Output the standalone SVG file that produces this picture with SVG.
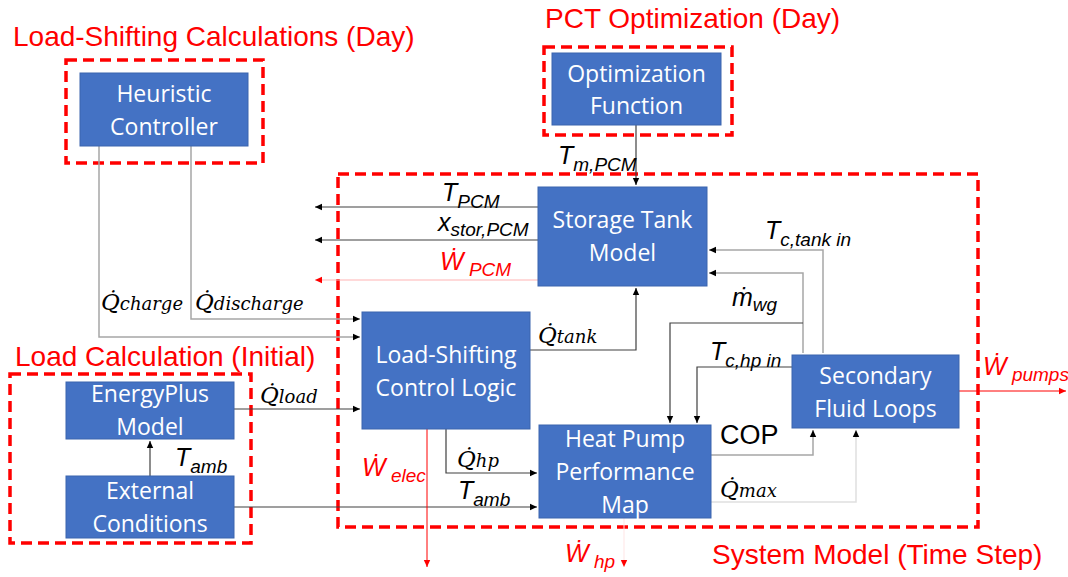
<svg xmlns="http://www.w3.org/2000/svg" width="1068" height="577" viewBox="0 0 1068 577">
<style>
.box{fill:#4472C4;stroke:#3A64AE;stroke-width:1}
.bt{font-family:"Open Sans","Liberation Sans",sans-serif;font-size:23px;fill:#fff;text-anchor:middle}
.grp{fill:none;stroke:#FF0000;stroke-width:3.5;stroke-dasharray:11 6}
.gt{font-family:"Liberation Sans",Arial,sans-serif;font-size:28px;fill:#FF0000}
.ln{fill:none;stroke:#404040;stroke-width:1.2}
.lg{fill:none;stroke:#A6A6A6;stroke-width:1.5}
.lr{fill:none;stroke:#FF0000;stroke-width:1}
.lrf{fill:none;stroke:#FFB3B3;stroke-width:1}
.mq{font-family:"DejaVu Serif","Liberation Serif",serif;font-style:italic;font-size:23px;fill:#000}
.ms{font-size:18px}
.tv{font-family:"Liberation Sans",Arial,sans-serif;font-style:italic;font-size:25px;fill:#000}
.ts{font-size:19px}
.red{fill:#FF0000}
</style>
<defs>
<marker id="ab" markerWidth="8" markerHeight="8" refX="7" refY="4" orient="auto" markerUnits="userSpaceOnUse"><path d="M0,0.8 L7,4 L0,7.2 Z" fill="#000"/></marker>
<marker id="ar" markerWidth="8" markerHeight="8" refX="7" refY="4" orient="auto" markerUnits="userSpaceOnUse"><path d="M0,0.8 L7,4 L0,7.2 Z" fill="#FF0000"/></marker>
</defs>

<g id="groups">
<rect class="grp" x="66" y="60" width="197" height="103"/>
<text class="gt" x="13" y="46">Load-Shifting Calculations (Day)</text>
<rect class="grp" x="544" y="47" width="188" height="88"/>
<text class="gt" x="545" y="28">PCT Optimization (Day)</text>
<rect class="grp" x="10" y="374" width="241" height="169"/>
<text class="gt" x="15" y="366">Load Calculation (Initial)</text>
<rect class="grp" x="338" y="174" width="640" height="353"/>
<text class="gt" x="712" y="564">System Model (Time Step)</text>
</g>

<g id="connectors">
<path class="lg" d="M99,146 V337 H360" marker-end="url(#ab)"/>
<path class="lg" d="M191,146 V319 H360" marker-end="url(#ab)"/>
<path class="ln" d="M234,409 H360" marker-end="url(#ab)"/>
<path class="ln" d="M150,476 V441" marker-end="url(#ab)"/>
<path class="ln" d="M234,507 H537" marker-end="url(#ab)"/>
<path class="ln" d="M446,429 V473 H537" marker-end="url(#ab)"/>
<path class="ln" d="M530,350 H636 V288" marker-end="url(#ab)"/>
<path class="ln" d="M636,125 V185" marker-end="url(#ab)"/>
<path class="ln" d="M538,207 H315" marker-end="url(#ab)"/>
<path class="ln" d="M538,240 H315" marker-end="url(#ab)"/>
<path class="lrf" d="M538,280 H315" marker-end="url(#ar)"/>
<path class="lg" d="M823,353 V250 H709" marker-end="url(#ab)"/>
<path class="lg" d="M803,353 V273 H709" marker-end="url(#ab)"/>
<path class="ln" d="M803,323 H670 V423" marker-end="url(#ab)"/>
<path class="ln" d="M792,367 H697 V423" marker-end="url(#ab)"/>
<path class="lg" d="M711,455 H813 V430" marker-end="url(#ab)"/>
<path class="lg" d="M711,502 H856 V430" marker-end="url(#ab)" style="stroke:#E0E0E0"/>
<path class="lr" d="M959,391 H1066" marker-end="url(#ar)"/>
<path class="lr" d="M427,429 V567" marker-end="url(#ar)"/>
<path class="lrf" d="M624,518 V567" marker-end="url(#ar)" style="stroke:#FFE5E5"/>
</g>

<g id="heuristic"><rect class="box" x="80" y="73" width="168" height="73"/><text class="bt" x="164" y="102">Heuristic</text><text class="bt" x="164" y="135">Controller</text></g>
<g id="optimization"><rect class="box" x="552" y="53" width="169" height="72"/><text class="bt" x="636.5" y="82">Optimization</text><text class="bt" x="636.5" y="114">Function</text></g>
<g id="storage"><rect class="box" x="538" y="187" width="169" height="99"/><text class="bt" x="622.5" y="228">Storage Tank</text><text class="bt" x="622.5" y="261">Model</text></g>
<g id="controllogic"><rect class="box" x="362" y="312" width="168" height="117"/><text class="bt" x="446" y="363">Load-Shifting</text><text class="bt" x="446" y="396">Control Logic</text></g>
<g id="secondary"><rect class="box" x="792" y="355" width="167" height="73"/><text class="bt" x="875.5" y="384">Secondary</text><text class="bt" x="875.5" y="417">Fluid Loops</text></g>
<g id="heatpump"><rect class="box" x="539" y="425" width="172" height="93"/><text class="bt" x="625" y="447">Heat Pump</text><text class="bt" x="625" y="480">Performance</text><text class="bt" x="625" y="513">Map</text></g>
<g id="energyplus"><rect class="box" x="66" y="382" width="168" height="57"/><text class="bt" x="150" y="402">EnergyPlus</text><text class="bt" x="150" y="435">Model</text></g>
<g id="external"><rect class="box" x="66" y="476" width="168" height="62"/><text class="bt" x="150" y="499">External</text><text class="bt" x="150" y="532">Conditions</text></g>

<g id="labels">
<text class="mq" x="101" y="310">Q&#775;<tspan class="ms">charge</tspan></text>
<text class="mq" x="195" y="310">Q&#775;<tspan class="ms">discharge</tspan></text>
<text class="mq" x="538" y="343">Q&#775;<tspan class="ms">tank</tspan></text>
<text class="mq" x="260" y="403">Q&#775;<tspan class="ms">load</tspan></text>
<text class="mq" x="457" y="467">Q&#775;<tspan class="ms">hp</tspan></text>
<text class="mq" x="720" y="497">Q&#775;<tspan class="ms">max</tspan></text>
<text x="720" y="444" font-family="Liberation Sans,Arial,sans-serif" font-size="27">COP</text>
<text class="tv" x="175" y="466">T<tspan class="ts" dy="7">amb</tspan></text>
<text class="tv" x="458" y="499">T<tspan class="ts" dy="7">amb</tspan></text>
<text class="tv" x="558" y="164">T<tspan class="ts" dy="7">m,PCM</tspan></text>
<text class="tv" x="442" y="201">T<tspan class="ts" dy="7">PCM</tspan></text>
<text class="tv" x="438" y="231" font-style="normal">x<tspan class="ts" font-style="italic" dy="5">stor,PCM</tspan></text>
<text class="tv red" x="440" y="270">&#7814;<tspan class="ts" dy="6"> PCM</tspan></text>
<text class="tv" x="765" y="239">T<tspan class="ts" dy="7">c,tank in</tspan></text>
<text class="tv" x="732" y="306">&#7745;<tspan class="ts" dy="5">wg</tspan></text>
<text class="tv" x="710" y="360">T<tspan class="ts" dy="7">c,hp in</tspan></text>
<text class="tv red" x="362" y="476">&#7814;<tspan class="ts" dy="6"> elec</tspan></text>
<text class="tv red" x="983" y="375">&#7814;<tspan class="ts" dy="6"> pumps</tspan></text>
<text class="tv red" x="565" y="562">&#7814;<tspan class="ts" dy="6"> hp</tspan></text>
</g>
</svg>
